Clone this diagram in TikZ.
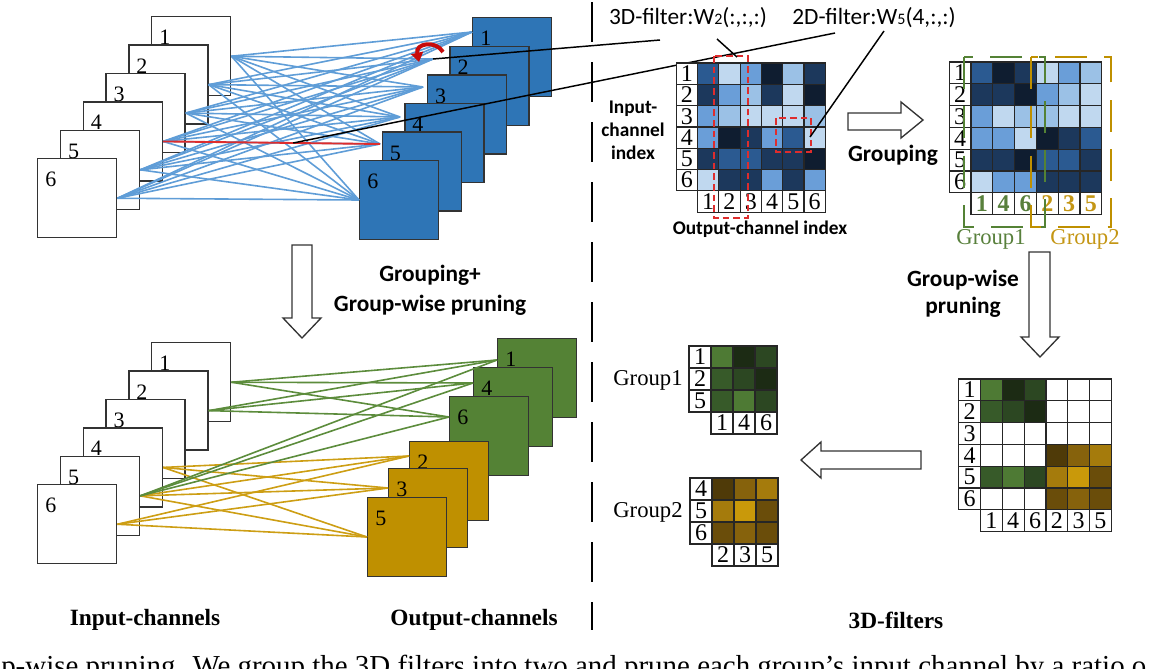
\documentclass[tikz,border=0pt]{standalone}
\usepackage{fontspec}
\setmainfont{Liberation Serif}
\newfontfamily\calibri{Carlito}
\usetikzlibrary{arrows.meta, calc}

\definecolor{sqblue}{RGB}{46,117,182}
\definecolor{sqgreen}{RGB}{84,130,53}
\definecolor{sqgold}{RGB}{191,144,0}
\definecolor{lnblue}{RGB}{95,157,215}
\definecolor{lngreen}{RGB}{92,140,60}
\definecolor{lngold}{RGB}{205,158,20}
\definecolor{myred}{RGB}{222,45,45}
\definecolor{curlred}{RGB}{200,10,10}
\definecolor{txtgreen}{RGB}{88,128,60}
\definecolor{txtgold}{RGB}{196,150,20}
% blue shades of the weight maps
\definecolor{hb1}{HTML}{C0D8EF}
\definecolor{hb2}{HTML}{9BC1E6}
\definecolor{hb3}{HTML}{6A9ED8}
\definecolor{hb4}{HTML}{2B5A91}
\definecolor{hb5}{HTML}{1C385C}
\definecolor{hb6}{HTML}{0F1D30}
% green and gold shades after pruning
\definecolor{hg1}{HTML}{4E7A34}
\definecolor{hg2}{HTML}{375A29}
\definecolor{hg3}{HTML}{2C4722}
\definecolor{hg4}{HTML}{1C2B14}
\definecolor{hy1}{HTML}{C9990A}
\definecolor{hy2}{HTML}{A57B0C}
\definecolor{hy3}{HTML}{86620C}
\definecolor{hy4}{HTML}{6A4D0A}
\definecolor{hy5}{HTML}{4F3A08}

\newcommand{\grpone}[1]{\textcolor{txtgreen}{\textbf{#1}}}
\newcommand{\grptwo}[1]{\textcolor{txtgold}{\textbf{#1}}}

\tikzset{
  insq/.style={draw=black!80, fill=white, line width=1.1pt,
    minimum width=59.25pt, minimum height=59.25pt, anchor=north west, inner sep=0pt},
  sqlbl/.style={anchor=north west, inner sep=0pt, xshift=6pt, yshift=-10.5pt,
    font=\fontsize{16.5}{16.5}\selectfont},
  link/.style={line width=1.2pt},
  cellline/.style={draw=black!85, line width=0.9pt},
  idx/.style={inner sep=0pt, font=\fontsize{18}{18}\selectfont},
  hollow/.style={draw=black!80, fill=white, line width=1pt, line join=miter},
  pointer/.style={black, line width=1.1pt},
  redbox/.style={draw=myred, line width=1.1pt, dash pattern=on 5pt off 3pt},
  grpbox/.style={line width=1.8pt, dash pattern=on 24pt off 13pt},
  divider/.style={black, line width=2pt, dash pattern=on 30pt off 15pt},
  filterlbl/.style={font=\calibri\fontsize{17.5}{20}\selectfont},
  boldsans/.style={font=\calibri\bfseries\fontsize{17.5}{22.5}\selectfont, align=center},
  smallsans/.style={font=\calibri\bfseries\fontsize{14.5}{17.25}\selectfont, align=center, inner sep=0.5pt},
  boldserif/.style={font=\bfseries\fontsize{17.5}{20}\selectfont},
  grplbl/.style={font=\fontsize{17}{20}\selectfont}
}

% #1 name, #2 x0, #3 y0, #4 cell, #5 rows, #6 row labels, #7 column labels, #8 colours
\newcommand{\heatgrid}[8]{%
  \foreach \rowcols [count=\r] in {#8}
    \foreach \cc [count=\c] in \rowcols
      \draw[cellline, fill=\cc] ({#2+(\c-1)*#4},{#3+(\r-1)*#4}) rectangle ++(#4,#4);
  \foreach \lab [count=\r] in {#6} {
    \draw[cellline, fill=white] ({#2-#4},{#3+(\r-1)*#4}) rectangle ++(#4,#4);
    \node[idx] (#1-r\r) at ({#2-#4/2},{#3+(\r-0.5)*#4}) {\lab};
  }
  \foreach \lab [count=\c] in {#7} {
    \draw[cellline, fill=white] ({#2+(\c-1)*#4},{#3+#5*#4}) rectangle ++(#4,#4);
    \node[idx] (#1-c\c) at ({#2+(\c-0.5)*#4},{#3+(#5+0.5)*#4}) {\lab};
  }
}

\begin{document}
\begin{tikzpicture}[x=0.75pt, y=-0.75pt]
  \useasboundingbox (0,0) rectangle (1152,668);

  % Top: all input channels to all output channels
  \foreach \i in {1,...,6} {
    \node[insq] (inA\i) at ({151-22.8*(\i-1)},{16+28.4*(\i-1)}) {};
    \node[sqlbl] (inA\i-n) at (inA\i.north west) {\i};
  }
  \foreach \i in {1,...,6} {
    \node[insq, fill=sqblue] (outA\i) at ({472-22.6*(\i-1)},{17+28.6*(\i-1)}) {};
    \node[sqlbl] (outA\i-n) at (outA\i.north west) {\i};
  }
  \coordinate (eA1) at (472,32);
  \coordinate (eA2) at (433,59);
  \coordinate (eA3) at (423,87);
  \coordinate (eA4) at (400,117);
  \coordinate (eA5) at (380,144);
  \coordinate (eA6) at (359,200);
  \foreach \i in {1,...,6}
    \foreach \j in {1,...,6}
      \draw[link, lnblue] (inA\i.east) -- (eA\j);
  \draw[link, myred, line width=1.4pt] (inA4.east) -- (eA5);
  \draw[curlred, line width=3pt, -{Triangle[length=7pt,width=9pt]}]
    (443,52) .. controls (436,40) and (415,43) .. (419,62);

  % Filter labels and pointers
  \node[filterlbl] (lbl3d) at (688,18) {3D-filter:W{\fontsize{12}{12}\selectfont 2}(:,:,:)};
  \node[filterlbl] (lbl2d) at (874,18) {2D-filter:W{\fontsize{12}{12}\selectfont 5}(4,:,:)};
  \coordinate (p3d) at (660,40);
  \coordinate (p2d) at (835,33);
  \coordinate (redmid) at ($(inA4.east)!0.6!(eA5)$);
  \draw[pointer] (eA2) -- (p3d);
  \draw[pointer] (redmid) -- (p2d);

  % Weight map before grouping
  \heatgrid{mA}{697.5}{63}{21.3}{6}{1,...,6}{1,...,6}{
    {hb4,hb1,hb3,hb6,hb2,hb5},{hb5,hb3,hb2,hb5,hb1,hb6},{hb3,hb2,hb1,hb1,hb1,hb2},
    {hb3,hb6,hb5,hb3,hb4,hb1},{hb5,hb4,hb4,hb5,hb5,hb6},{hb1,hb5,hb5,hb3,hb5,hb3}}
  \coordinate (col2top) at (714,56);
  \coordinate (cellfour) at (776,118);
  \draw[redbox] (col2top) rectangle (748,218);
  \draw[redbox] (cellfour) rectangle (811,152);
  \coordinate (p3dA) at (717,39);
  \coordinate (p3dB) at (737,57);
  \coordinate (p2dA) at (884,31);
  \coordinate (p2dB) at (810,137);
  \draw[pointer] (p3dA) -- (p3dB);
  \draw[pointer] (p2dA) -- (p2dB);
  \node[smallsans] (inidx) at (633,130) {Input-\\channel\\index};
  \node[smallsans] (outidx) at (760,229) {Output-channel index};

  % Grouping step
  \draw[hollow] (848,113) -- (901,113) -- (901,102) -- (923,120) -- (901,138) -- (901,130) -- (848,130) -- cycle;
  \node[boldsans] (grouping) at (893,155) {Grouping};
  \heatgrid{mB}{971}{62}{21.8}{6}{1,...,6}{\grpone{1},\grpone{4},\grpone{6},\grptwo{2},\grptwo{3},\grptwo{5}}{
    {hb4,hb6,hb5,hb1,hb3,hb2},{hb5,hb5,hb6,hb3,hb2,hb1},{hb3,hb1,hb2,hb2,hb1,hb1},
    {hb3,hb3,hb1,hb6,hb5,hb4},{hb5,hb5,hb6,hb4,hb4,hb5},{hb1,hb3,hb3,hb5,hb5,hb5}}
  \draw[grpbox, sqgreen] (964,57) rectangle (1045,227);
  \draw[grpbox, sqgold] (1031,57) rectangle (1111,227);
  \node[grplbl, text=txtgreen] (g1lbl) at (991,239) {Group1};
  \node[grplbl, text=txtgold] (g2lbl) at (1085,239) {Group2};

  % Group-wise pruning step
  \draw[hollow] (1029,252) -- (1050,252) -- (1050,337) -- (1059,337) -- (1040,357) -- (1021,337) -- (1029,337) -- cycle;
  \node[boldsans, font=\calibri\bfseries\fontsize{17.5}{20}\selectfont] (gwprune) at (963,294) {Group-wise\\pruning};
  \heatgrid{mC}{980.5}{379}{21.8}{6}{1,...,6}{1,4,6,2,3,5}{
    {hg1,hg4,hg3,white,white,white},{hg2,hg3,hg4,white,white,white},
    {white,white,white,white,white,white},{white,white,white,hy5,hy3,hy2},
    {hg2,hg1,hg3,hy2,hy1,hy4},{white,white,white,hy4,hy3,hy4}}
  \draw[hollow] (921,451) -- (821,451) -- (821,442) -- (801,460) -- (821,478) -- (821,469) -- (921,469) -- cycle;

  % Two group filters
  \heatgrid{mD}{711}{346}{22}{3}{1,2,5}{1,4,6}{
    {hg1,hg4,hg3},{hg2,hg3,hg4},{hg2,hg1,hg3}}
  \heatgrid{mE}{712}{478}{22}{3}{4,5,6}{2,3,5}{
    {hy5,hy3,hy2},{hy2,hy1,hy4},{hy4,hy3,hy4}}
  \node[grplbl] (grp1name) at (648,380) {Group1};
  \node[grplbl] (grp2name) at (648,512) {Group2};

  % Left arrow between stacks
  \draw[hollow] (292,245) -- (312,245) -- (312,318) -- (321,318) -- (302,338) -- (283,318) -- (292,318) -- cycle;
  \node[boldsans, font=\calibri\bfseries\fontsize{17.5}{22.5}\selectfont] (gpprune) at (430,290) {Grouping+\\Group-wise pruning};

  % Bottom: grouped and pruned connections
  \foreach \i in {1,...,6} {
    \node[insq] (inB\i) at ({151-22.8*(\i-1)},{342+28.4*(\i-1)}) {};
    \node[sqlbl] (inB\i-n) at (inB\i.north west) {\i};
  }
  \foreach \k/\x/\y in {1/497/338, 4/473/367, 6/449/396} {
    \node[insq, fill=sqgreen] (outG\k) at (\x,\y) {};
    \node[sqlbl] (outG\k-n) at (outG\k.north west) {\k};
  }
  \foreach \k/\x/\y in {2/409/441, 3/388/468, 5/367/497} {
    \node[insq, fill=sqgold] (outY\k) at (\x,\y) {};
    \node[sqlbl] (outY\k-n) at (outY\k.north west) {\k};
  }
  \coordinate (eG1) at (497,360);
  \coordinate (eG4) at (473,383);
  \coordinate (eG6) at (449,417);
  \coordinate (eY2) at (409,456);
  \coordinate (eY3) at (388,488);
  \coordinate (eY5) at (367,537);
  \foreach \i in {4,5,6}
    \foreach \j in {2,3,5}
      \draw[link, lngold] (inB\i.east) -- (eY\j);
  \foreach \i in {1,2,5}
    \foreach \j in {1,4,6}
      \draw[link, lngreen] (inB\i.east) -- (eG\j);

  % Divider and captions
  \draw[divider] (592,2) -- (592,630);
  \node[boldserif] (capin) at (145,620) {Input-channels};
  \node[boldserif] (capout) at (474,620) {Output-channels};
  \node[boldserif] (capfil) at (896,620) {3D-filters};
  \begin{scope}
    \clip (0,0) rectangle (1152,668);
    \node[anchor=base west, inner sep=0pt, font=\fontsize{21.7}{24}\selectfont] (caption) at (1,675)
      {p-wise pruning. We group the 3D filters into two and prune each group’s input channel by a ratio o};
  \end{scope}
\end{tikzpicture}
\end{document}
